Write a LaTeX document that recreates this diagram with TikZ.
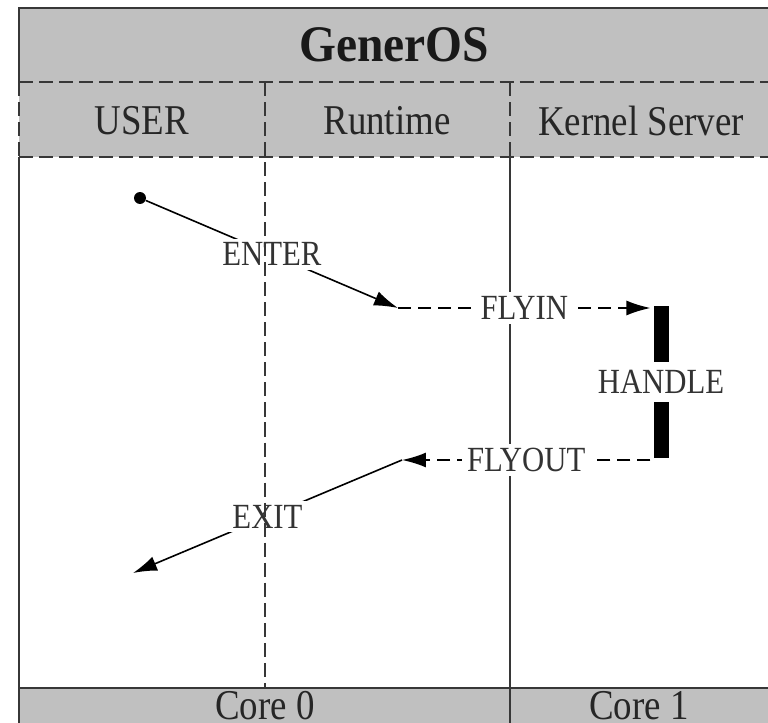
\documentclass[tikz,border=0pt]{standalone}
\usepackage{fontspec}
\setmainfont{Liberation Serif}
\definecolor{bandgray}{RGB}{192,192,192}
\definecolor{linegray}{RGB}{55,55,55}
\usepackage{tikz}
\usetikzlibrary{arrows.meta, positioning}
\tikzset{
>={Latex[length=0.48cm, width=0.3cm]}, % filled arrow heads
x=0.02cm, y=-0.02cm, % one unit is one pixel of the reference
frame/.style={draw=linegray, line width=0.04cm}, % the outer lines and dividers
framedash/.style={frame, dash pattern=on 8pt off 3.4pt}, % dashed dividers
band/.style={fill=bandgray, draw=none}, % grey title and core bands
flow/.style={draw=black, line width=0.032cm}, % arrows between the parts
flowdash/.style={flow, dash pattern=on 7.4pt off 4pt}, % dashed arrows
tall/.style={yscale=1.15, transform shape}, % the reference letters are a bit taller
title/.style={font=\fontsize{27}{30}\selectfont\bfseries, text=black!90, yscale=1.08, transform shape}, % the big title
head/.style={font=\fontsize{21}{24}\selectfont, text=black!85, tall}, % column and core names
lbl/.style={font=\fontsize{17.5}{20}\selectfont, text=black!80, fill=white, inner xsep=3pt, inner ysep=2pt, tall}, % labels on the arrows
}

\begin{document}
\begin{tikzpicture}
      \clip (0,0) rectangle (768,723);
      % grey bands
      \fill[band] (19,8) rectangle (790,157);
      \fill[band] (19,688) rectangle (790,740);

      % title and column heads
      \node[title] (generos) at (394,45) {GenerOS};
      \node[head] (user) at (142,121) {USER};
      \node[head] (runtime) at (387,121) {Runtime};
      \node[head] (kernel) at (641,121) {Kernel Server};
      \node[head] (core0) at (265,706) {Core 0};
      \node[head] (core1) at (639,706) {Core 1};

      % frame
      \draw[frame] (790,8) -- (19,8) -- (19,82);
      \draw[framedash] (19,82) -- (19,157);
      \draw[frame] (19,157) -- (19,740);
      \draw[framedash] (19,82) -- (790,82);
      \draw[framedash] (19,157) -- (790,157);
      \draw[framedash] (510,82) -- (510,157);
      \draw[frame] (510,157) -- (510,740);
      \draw[frame] (19,688) -- (790,688);

      % the flow
      \node[circle, fill=black, inner sep=0pt, minimum size=0.24cm] (start) at (140,198) {};
      \coordinate (enterend) at (398,308);
      \coordinate (handletop) at (661,308);
      \coordinate (handlebot) at (661,460);
      \coordinate (flyoutend) at (402,460);
      \coordinate (exitend) at (133,573);

      \draw[flow, ->] (start) -- node[lbl] (enter) {ENTER} (enterend);
      \draw[flowdash, ->] (enterend) -- node[lbl] (flyin) {FLYIN} ([xshift=-6]handletop);
      \draw[black, line width=0.3cm] ([yshift=1]handletop) -- node[lbl, inner ysep=4pt] (handle) {HANDLE} ([yshift=1]handlebot);
      \draw[flowdash, ->] ([xshift=-6]handlebot) -- node[lbl] (flyout) {FLYOUT} (flyoutend);
      \draw[flow, ->] (flyoutend) -- node[lbl] (exit) {EXIT} (exitend);

      % runtime divider goes over the labels
      \draw[framedash] (265,82) -- (265,688);
    \end{tikzpicture}
\end{document}
